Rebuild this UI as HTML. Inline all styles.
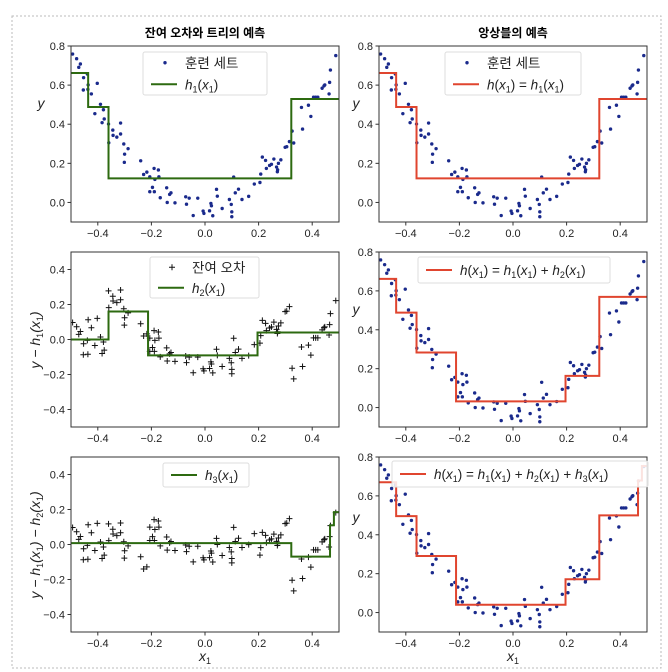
<!DOCTYPE html>
<html><head><meta charset="utf-8"><style>
body{margin:0;background:#fff;}
svg{display:block;font-family:"Liberation Sans","Noto Sans CJK KR",sans-serif;}
</style></head><body>
<svg id="c" width="668" height="672" xmlns="http://www.w3.org/2000/svg">
<rect x="12" y="16" width="649" height="652" fill="none" stroke="#bbb" stroke-dasharray="2,2"/>
<text x="205" y="37" text-anchor="middle" font-size="12" font-weight="bold">잔여 오차와 트리의 예측</text>
<text x="513" y="37" text-anchor="middle" font-size="12" font-weight="bold">앙상블의 예측</text>
</svg>
<script>
const xs=[-0.494,-0.479,-0.471,-0.465,-0.453,-0.454,-0.439,-0.436,-0.437,-0.424,-0.411,-0.402,-0.390,-0.384,-0.379,-0.376,-0.360,-0.359,-0.344,-0.343,-0.329,-0.315,-0.315,-0.303,-0.300,-0.287,-0.301,-0.240,-0.229,-0.217,-0.206,-0.206,-0.196,-0.190,-0.189,-0.187,-0.174,-0.172,-0.167,-0.143,-0.141,-0.132,-0.127,-0.112,-0.072,-0.069,-0.059,-0.044,-0.027,-0.007,-0.004,0.017,0.022,0.024,0.029,0.043,0.046,0.064,0.091,0.098,0.100,0.100,0.107,0.113,0.125,0.138,0.163,0.184,0.205,0.208,0.214,0.226,0.229,0.241,0.248,0.257,0.267,0.271,0.270,0.274,0.283,0.299,0.305,0.315,0.325,0.331,0.360,0.364,0.386,0.395,0.405,0.413,0.421,0.437,0.444,0.447,0.463,0.465,0.468,0.488];
const ys=[0.759,0.735,0.691,0.708,0.638,0.575,0.657,0.601,0.578,0.555,0.454,0.609,0.502,0.408,0.474,0.427,0.401,0.305,0.370,0.343,0.334,0.350,0.406,0.299,0.247,0.275,0.205,0.213,0.143,0.155,0.131,0.055,0.077,0.174,0.055,0.118,0.166,0.131,0.024,0.075,0.000,0.041,0.049,-0.002,0.029,-0.009,0.022,-0.067,0.022,-0.044,-0.056,-0.043,-0.005,-0.017,-0.068,0.067,0.032,-0.031,0.015,-0.010,-0.048,-0.073,0.130,0.049,0.068,0.015,0.031,0.094,0.102,0.145,0.232,0.215,0.174,0.189,0.195,0.222,0.181,0.167,0.157,0.200,0.218,0.282,0.285,0.311,0.365,0.304,0.486,0.375,0.497,0.440,0.538,0.538,0.538,0.584,0.596,0.601,0.555,0.614,0.677,0.751];
const h1Thr=[-0.436,-0.360,0.322];
const h1Val=[0.662,0.488,0.123,0.529];
const h2Thr=[-0.360,-0.2125,0.196];
const h2Val=[0.0,0.16,-0.091,0.04];
const h3Thr=[0.322,0.4665,0.481];
const h3Val=[0.008,-0.069,0.11,0.185];
const xTicks=[-0.4,-0.2,0.0,0.2,0.4];
const yTicksA=[0.0,0.2,0.4,0.6,0.8];
const yTicksB=[-0.4,-0.2,0.0,0.2,0.4];

const NS="http://www.w3.org/2000/svg";
const svg=document.getElementById('c');
function mk(tag,attrs,parent){const e=document.createElementNS(NS,tag);for(const k in attrs)e.setAttribute(k,attrs[k]);(parent||svg).appendChild(e);return e;}
function step(thr,val,x){let i=0;while(i<thr.length&&x>=thr[i])i++;return val[i];}
const fmt=v=>(v<0?'\u2212':'')+Math.abs(v).toFixed(1);
const GREEN='#2d6a10',RED='#e0452f',NAVY='#1a2a8c';

function panel(cfg){
  const g=mk('g',{});
  
  
  const X=v=>cfg.x0+(v+0.5)/1.0*cfg.w;
  const Y=v=>cfg.y0+(cfg.ymax-v)/(cfg.ymax-cfg.ymin)*cfg.h;
  const clipId='clip-'+cfg.name;
  const cp=mk('clipPath',{id:clipId},g);mk('rect',{x:cfg.x0,y:cfg.y0,width:cfg.w,height:cfg.h},cp);
  const pg=mk('g',{'clip-path':'url(#'+clipId+')'},g);
  for(let i=0;i<xs.length;i++){
    let v=ys[i];
    if(cfg.resid>=1)v-=step(h1Thr,h1Val,xs[i]);
    if(cfg.resid>=2)v-=step(h2Thr,h2Val,xs[i]);
    const px=X(xs[i]),py=Y(v);
    if(cfg.marker==='dot'){
      const c=mk('circle',{cx:px,cy:py,r:1.7,fill:NAVY},pg);
      
      
    }else{
      const p=mk('path',{d:`M${px-3},${py}H${px+3}M${px},${py-3}V${py+3}`,stroke:'#111','stroke-width':1},pg);
      
      
    }
  }
  const fs=cfg.funcs;
  let thr=[];fs.forEach(f=>thr=thr.concat(f[0]));thr=[...new Set(thr)].sort((a,b)=>a-b);
  const f=x=>fs.reduce((s,q)=>s+step(q[0],q[1],x),0);
  let d=`M${X(-0.5)},${Y(f(-0.5))}`;
  thr.forEach(t=>{d+=`H${X(t)}V${Y(f(t+1e-9))}`;});
  d+=`H${X(0.5)}`;
  const ln=mk('path',{d:d,fill:'none',stroke:cfg.color,'stroke-width':2},pg);
  
  
  mk('rect',{x:cfg.x0,y:cfg.y0,width:cfg.w,height:cfg.h,fill:'none',stroke:'#333','stroke-width':1},g);
  xTicks.forEach(t=>{const px=X(t);mk('line',{x1:px,x2:px,y1:cfg.y0+cfg.h,y2:cfg.y0+cfg.h+3.5,stroke:'#333'},g);
    const tx=mk('text',{x:px,y:cfg.y0+cfg.h+15,'text-anchor':'middle','font-size':11,fill:'#222'},g);tx.textContent=fmt(t);
    });
  cfg.yticks.forEach(t=>{const py=Y(t);mk('line',{x1:cfg.x0-3.5,x2:cfg.x0,y1:py,y2:py,stroke:'#333'},g);
    const tx=mk('text',{x:cfg.x0-6,y:py+4,'text-anchor':'end','font-size':11,fill:'#222'},g);tx.textContent=fmt(t);
    });
  const L=cfg.legend;
  const lg=mk('g',{},g);
  
  
  mk('rect',{x:L.x,y:L.y,width:L.w,height:L.h,fill:'#fff','fill-opacity':0.85,stroke:'#ddd',rx:2},lg);
  let ly=L.y+(L.items.length===1?L.h/2:L.h/4);
  L.items.forEach(it=>{
    if(it.type==='dot')mk('circle',{cx:L.x+22,cy:ly,r:1.7,fill:NAVY},lg);
    else if(it.type==='plus')mk('path',{d:`M${L.x+19},${ly}H${L.x+25}M${L.x+22},${ly-3}V${ly+3}`,stroke:'#111'},lg);
    else mk('line',{x1:L.x+8,x2:L.x+34,y1:ly,y2:ly,stroke:cfg.color,'stroke-width':2},lg);
    const t=mk('text',{x:L.x+42,y:ly+5,'font-size':13.5,fill:'#222'},lg);t.innerHTML=it.label;
    ly+=L.h/2;
  });
  if(cfg.ylabel){const t=mk('text',{x:cfg.ylx,y:cfg.yly,'font-size':14,'text-anchor':'middle','font-style':'italic',fill:'#222',transform:cfg.rot?`rotate(-90 ${cfg.ylx} ${cfg.yly})`:''},g);t.innerHTML=cfg.ylabel;
    }
  if(cfg.xlabel){const t=mk('text',{x:cfg.x0+cfg.w/2,y:cfg.y0+cfg.h+29,'font-size':14,'text-anchor':'middle','font-style':'italic',fill:'#222'},g);t.innerHTML='x<tspan font-size="9" dy="3" font-style="normal">1</tspan>';
    }
}
const sub=n=>`<tspan font-size="9" dy="3" font-style="normal">${n}</tspan><tspan dy="-3">`;
const hx=(n)=>`<tspan font-style="italic">h</tspan>${sub(n)}(<tspan font-style="italic">x</tspan>${sub(1)})</tspan></tspan>`;
const hx0=`<tspan font-style="italic">h</tspan>(<tspan font-style="italic">x</tspan>${sub(1)})</tspan>`;
const A={ymin:-0.1,ymax:0.8,yticks:yTicksA}, B={ymin:-0.5,ymax:0.5,yticks:yTicksB};
const LX=71,RX=379,W=268;
panel({name:'residual-tree-panel-1',x0:LX,y0:46,w:W,h:176,...A,marker:'dot',resid:0,color:GREEN,funcs:[[h1Thr,h1Val]],
  legend:{x:143,y:52,w:124,h:43,items:[{type:'dot',label:'훈련 세트'},{type:'line',label:hx(1)}]},ylabel:'y',ylx:41,yly:108});
panel({name:'ensemble-panel-1',x0:RX,y0:46,w:W,h:176,...A,marker:'dot',resid:0,color:RED,funcs:[[h1Thr,h1Val]],
  legend:{x:445,y:52,w:136,h:43,items:[{type:'dot',label:'훈련 세트'},{type:'line',label:hx0+' = '+hx(1)}]},ylabel:'y',ylx:356,yly:108});
panel({name:'residual-tree-panel-2',x0:LX,y0:252,w:W,h:175,...B,marker:'plus',resid:1,color:GREEN,funcs:[[h2Thr,h2Val]],
  legend:{x:150,y:257,w:109,h:41,items:[{type:'plus',label:'잔여 오차'},{type:'line',label:hx(2)}]},ylabel:'y − '+hx(1),rot:true,ylx:40,yly:340});
panel({name:'ensemble-panel-2',x0:RX,y0:252,w:W,h:175,...A,marker:'dot',resid:0,color:RED,funcs:[[h1Thr,h1Val],[h2Thr,h2Val]],
  legend:{x:418,y:257,w:192,h:26,items:[{type:'line',label:hx0+' = '+hx(1)+' + '+hx(2)}]},ylabel:'y',ylx:356,yly:314});
panel({name:'residual-tree-panel-3',x0:LX,y0:457,w:W,h:175,...B,marker:'plus',resid:2,color:GREEN,funcs:[[h3Thr,h3Val]],
  legend:{x:163,y:463,w:86,h:24,items:[{type:'line',label:hx(3)}]},ylabel:'y − '+hx(1)+' − '+hx(2),rot:true,ylx:40,yly:545,xlabel:true});
panel({name:'ensemble-panel-3',x0:RX,y0:457,w:W,h:175,...A,marker:'dot',resid:0,color:RED,funcs:[[h1Thr,h1Val],[h2Thr,h2Val],[h3Thr,h3Val]],
  legend:{x:392,y:461,w:256,h:26,items:[{type:'line',label:hx0+' = '+hx(1)+' + '+hx(2)+' + '+hx(3)}]},ylabel:'y',ylx:356,yly:522,xlabel:true});
</script>
</body></html>
